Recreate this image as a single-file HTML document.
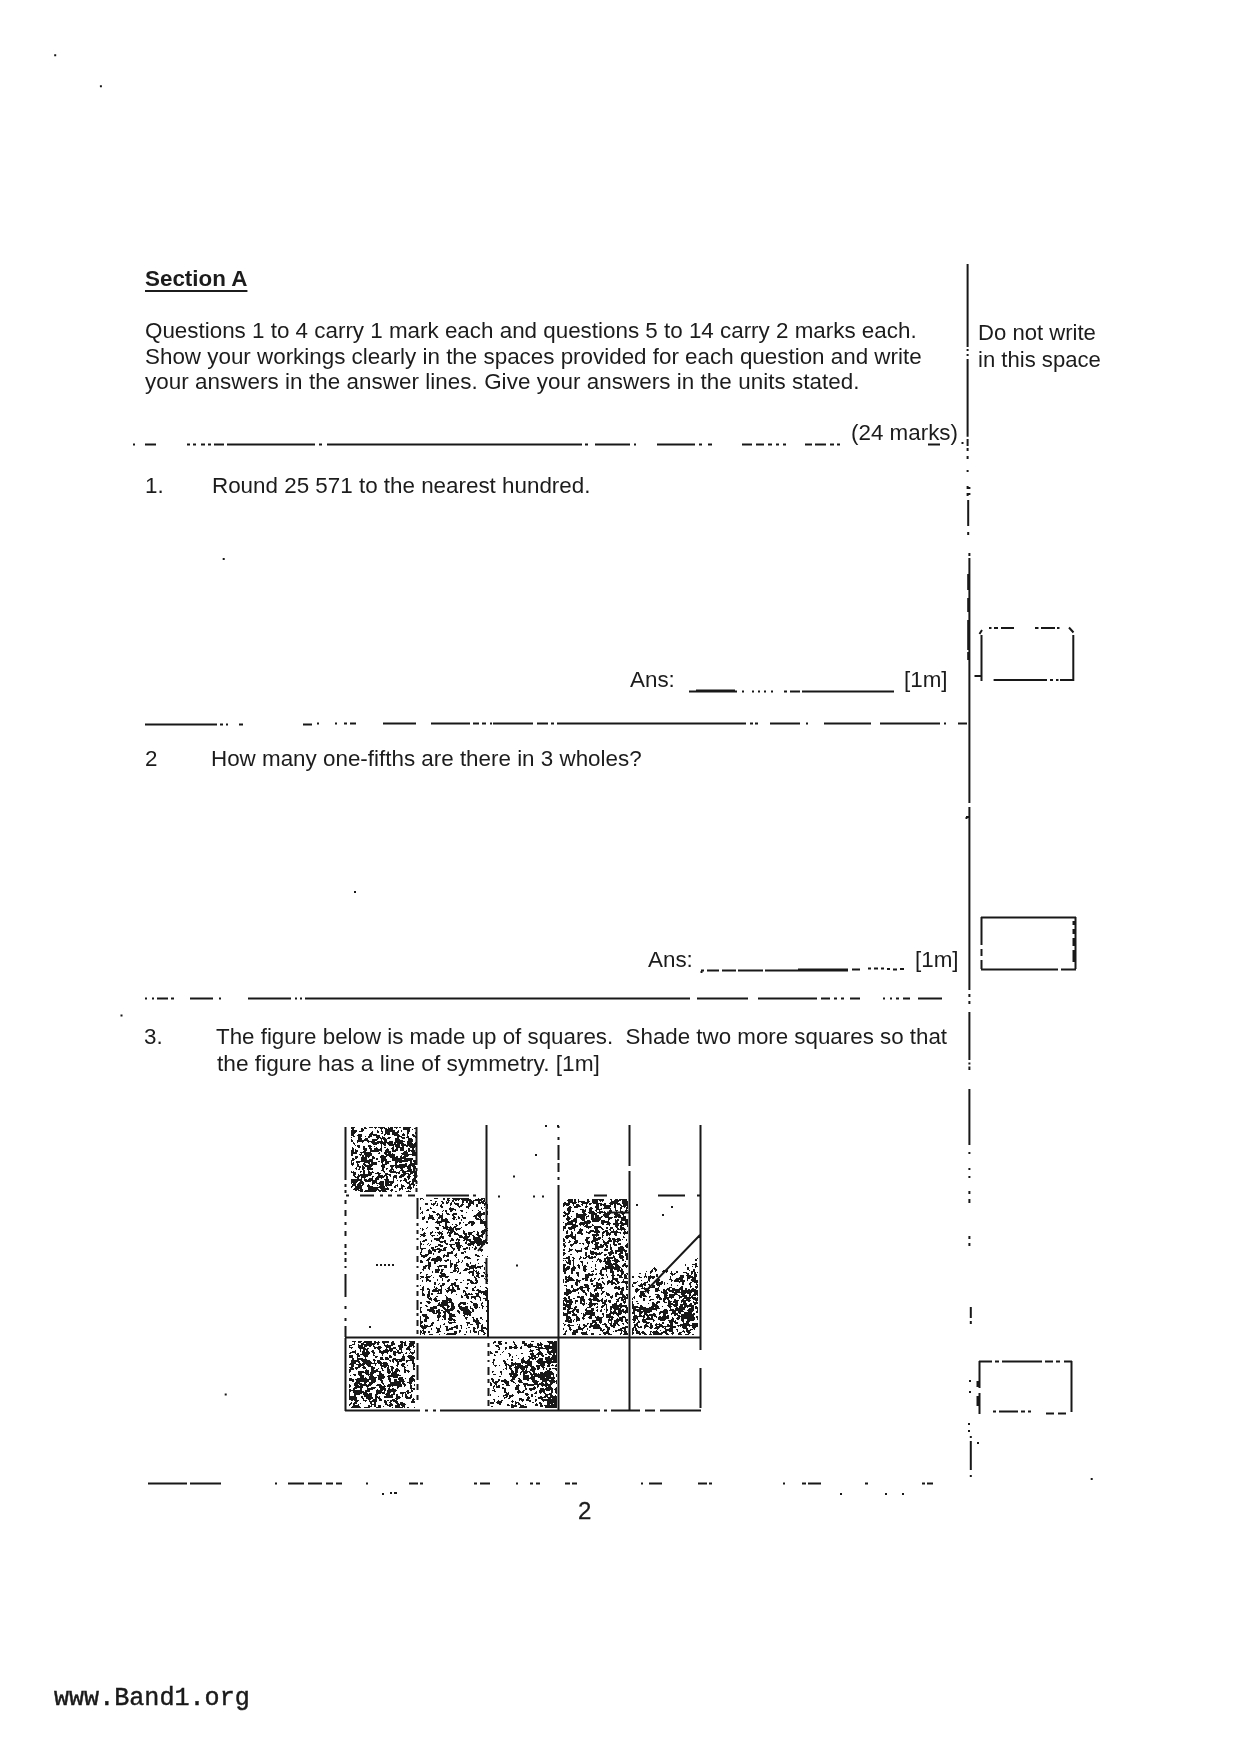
<!DOCTYPE html>
<html><head><meta charset="utf-8"><title>Section A</title>
<style>
html,body{margin:0;padding:0;background:#fff;}
body{width:1239px;height:1754px;position:relative;overflow:hidden;font-family:"Liberation Sans",sans-serif;color:#1c1c1c;}
.t{position:absolute;white-space:nowrap;line-height:30px;will-change:transform;}
svg{position:absolute;left:0;top:0;}
</style></head><body>
<div class="t" style="left:145px;top:264.24px;font-size:22.4px;font-weight:bold;"><span style="text-decoration:underline;text-underline-offset:4px;text-decoration-thickness:2px">Section A</span></div>
<div class="t" style="left:145px;top:315.54px;font-size:22.4px;">Questions 1 to 4 carry 1 mark each and questions 5 to 14 carry 2 marks each.</div>
<div class="t" style="left:145px;top:341.54px;font-size:22.4px;">Show your workings clearly in the spaces provided for each question and write</div>
<div class="t" style="left:145px;top:367.24px;font-size:22.4px;letter-spacing:0.055px;">your answers in the answer lines. Give your answers in the units stated.</div>
<div class="t" style="left:851px;top:418.24px;font-size:22.4px;">(24 marks)</div>
<div class="t" style="left:145px;top:471.04px;font-size:22.4px;">1.</div>
<div class="t" style="left:212px;top:471.04px;font-size:22.4px;">Round 25 571 to the nearest hundred.</div>
<div class="t" style="left:630px;top:665.04px;font-size:22.4px;">Ans:</div>
<div class="t" style="left:903.5px;top:665.04px;font-size:22.4px;">[1m]</div>
<div class="t" style="left:145px;top:743.74px;font-size:22.4px;">2</div>
<div class="t" style="left:211px;top:743.74px;font-size:22.4px;">How many one-fifths are there in 3 wholes?</div>
<div class="t" style="left:648px;top:945.24px;font-size:22.4px;">Ans:</div>
<div class="t" style="left:914.6px;top:945.24px;font-size:22.4px;">[1m]</div>
<div class="t" style="left:144px;top:1022.24px;font-size:22.4px;">3.</div>
<div class="t" style="left:216px;top:1022.26px;font-size:22.33px;">The figure below is made up of squares.&nbsp; Shade two more squares so that</div>
<div class="t" style="left:217px;top:1048.13px;font-size:22.7px;">the figure has a line of symmetry. [1m]</div>
<div class="t" style="left:977.7px;top:317.84px;font-size:22.1px;">Do not write</div>
<div class="t" style="left:977.7px;top:344.74px;font-size:22.1px;">in this space</div>
<div class="t" style="left:577.6px;top:1496.38px;font-size:24px;-webkit-text-stroke:0.3px #1c1c1c;">2</div>
<div class="t" style="left:54px;top:1683.91px;font-size:25.1px;font-family:'Liberation Mono',monospace;color:#1a1a1a;-webkit-text-stroke:0.45px #1a1a1a">www.Band1.org</div>
<svg width="1239" height="1754" viewBox="0 0 1239 1754">
<path d="M133 444.5H135M145 444.5H156M187 444.5H190M193 444.5H196M201 444.5H205M208 444.5H211M214 444.5H224M227 444.5H315M319 444.5H322M327 444.5H582M585 444.5H588M595 444.5H630M634 444.5H636M657 444.5H695M699 444.5H702M708 444.5H712M742 444.5H752M756 444.5H764M768 444.5H772M776 444.5H779M783 444.5H786M805 444.5H812M815 444.5H826M830 444.5H834M837 444.5H840M928 444.5H940M145 724.5H217M220 724.5H223M226 724.5H228M239 724.5H243M303 724.5H312M317 723.5H319M335 723.5H337M344 723.5H347M350 723.5H356M383 723.5H416M431 723.5H470M473 723.5H479M482 723.5H486M490 723.5H492M493 723.5H533M537 723.5H548M551 723.5H554M557 723.5H746M750 723.5H753M755 723.5H758M770 723.5H800M806 723.5H808M824 723.5H871M880 723.5H940M944 723.5H946M958 723.5H967M145 998.5H147M152 998.5H154M157 998.5H168M171 998.5H174M190 998.5H213M219 998.5H221M248 998.5H291M295 998.5H297M300 998.5H302M305 998.5H690M697 998.5H748M758 998.5H817M821 998.5H830M834 998.5H837M841 998.5H844M850 998.5H860M883 998.5H885M890 998.5H892M896 998.5H899M903 998.5H910M918 998.5H942M148 1483.5H187M190 1483.5H221M275 1483.5H277M288 1483.5H304M308 1483.5H322M326 1483.5H333M336 1483.5H342M366 1483.5H368M409 1483.5H418M420 1483.5H423M474 1483.5H477M480 1483.5H490M516 1483.5H518M530 1483.5H533M536 1483.5H540M565 1483.5H570M572 1483.5H577M641 1483.5H643M649 1483.5H662M698 1483.5H707M709 1483.5H712M783 1483.5H785M802 1483.5H806M808 1483.5H821M865 1483.5H868M922 1483.5H925M927 1483.5H933M382 1494h2M390 1493h2M394 1493h3M840 1494h2M885 1494h2M902 1494h2M689 691.5H737M742 691.5H744M752 691.5H754M758 691.5H760M764 691.5H766M771 691.5H773M784 691.5H787M790 691.5H800M802 691.5H894M696 690.5H735M701 970.5H704M707 970.5H719M722 970.5H736M738 970.5H763M765 970.5H800M800 970.5H848M798 969.6H848M852 969.5H860M868 968.5h3M874 968.5h4M881 968.5h3M887 969h3M893 969.5h4M900 969h4M701.5 971v2M967.6 264V347M967.6 349V351M967.6 354V356M967.6 359V436.7M967.6 439V446M967.6 448V451M967.6 456V459M967.6 470V472M967.6 486V489M967.6 493V496M969.4 487V489M969.4 493V495M969.4 553V556M969.4 558V650M969.4 650V803M969.4 807V990M969.4 994V997M969.4 1001V1004M969.4 1012V1060M969.4 1062.5V1064.5M969.4 1066.5V1070M969.4 1089V1145M969.4 1152V1154M969.4 1168V1170M969.4 1176V1178M969.4 1191V1194M969.4 1199V1203M969.4 1236V1239M969.4 1243V1246M968.2 500V526M968.2 532V535M968.2 574V590M968.2 598V612M968.2 620V650M968.2 652V660M966 817h3M965.5 818h2M970.8 1307V1318M970.8 1321V1324M970.8 1436V1438M970.8 1441V1470M970.8 1475V1477M969 1381h2M969 1392h2M968 1424h2M968 1431h2M977 1443h2M961.5 443h2M989 628h2.5M994 628h4M1001 628H1014M1035 628h3.5M1041 628H1055M1057 628h2.5M1069 627.5l4.5 5M979.5 634l2.5 -4M981.5 635V681M1073.3 635V681M974.5 676H982M993.6 680H1047M1050 680h3M1056 680h2.5M1060 680H1074M981 917.5H1076M981.5 917V945M981.5 949V956M981.5 960V969M981 969.5H1058M1061 969.5H1076M1075.5 917V969M1073.5 921v4M1073.5 929v5M1073.5 938v8M1073.5 950v12M979 1361.5H992M995 1361.5h4M1002 1361.5H1042M1045 1361.5h8M1056 1361.5h4M1064 1361.5H1072M979.5 1361V1388M979.5 1393V1414M977.5 1381v6M977.5 1396v10M1071.5 1361V1412M993 1411.5h3M999 1411.5H1018M1021 1411.5h4M1028 1411.5h3M1046 1413.5h8M1058 1413.5h8" stroke="#181818" stroke-width="2" fill="none"/>
<path d="M54.2 55.2h2M99.9 86.3h2M222.7 559.0h2M354.0 892.0h2M224.7 1394.4h2M120.5 1015.6h2M1090.7 1479.0h2" stroke="#181818" stroke-width="2" fill="none"/>
<path d="M345.5 1127V1180M345.5 1184V1187M345.5 1190V1193M345.5 1200V1204M345.5 1210V1216M345.5 1222V1225M345.5 1231V1236M345.5 1244V1248M345.5 1252V1255M345.5 1258V1262M345.5 1266V1268M345.5 1274V1297M345.5 1306V1309M345.5 1318V1321M345.5 1326V1337M345.5 1338V1411M416.5 1127V1165M416.5 1168V1171M416.5 1175V1177M416.5 1181V1184M416.5 1188V1192M417.5 1198V1219M417.5 1223V1226M417.5 1230V1234M417.5 1238V1240M417.5 1246V1250M417.5 1256V1262M417.5 1266V1268M417.5 1274V1280M417.5 1285V1287M417.5 1291V1296M417.5 1300V1310M417.5 1313V1316M417.5 1320V1326M417.5 1330V1334M417.5 1343V1360M417.5 1365V1380M417.5 1384V1390M417.5 1395V1400M486.5 1125V1241M486.5 1258V1284M486 1241l-8 10M488 1300V1337M488.5 1343V1347M488.5 1351V1356M488.5 1360V1362M488.5 1367V1375M488.5 1379V1383M488.5 1388V1396M488.5 1400V1406M558.5 1126V1128M558.5 1137V1140M558.5 1145V1160M558.5 1163V1172M558.5 1177V1180M558.5 1185V1411M629.5 1125V1166M629.5 1171V1411M700.5 1125V1350M700.5 1368V1408M346 1195.5H349M360 1195.5H374M380 1195.5H383M388 1195.5H392M397 1195.5H402M408 1195.5H415M426 1195.5H469M473 1195.5H476M594 1195.5H607M658 1195.5H685M697 1195.5H701M345 1337.5H701M345 1410.5H420M425 1410.5H428M433 1410.5H436M440 1410.5H600M604 1410.5H607M611 1410.5H640M645 1410.5H655M660 1410.5H701M607 1212.5H629M700 1235L645 1292M513 1176.5h2M535 1155h2M498 1196.5h2M533 1196.5h2M542 1196.5h2M516 1265.5h2M369 1327h2M545 1126h2M557 1126h2M636 1205h2M671 1207h2M662 1215h2M376 1265h2M380 1265h2M384 1265h2M388 1265h2M392 1265h2" stroke="#181818" stroke-width="2" fill="none"/>
<path d="M351 1127h4M364 1127h2M369 1127h4M374 1127h3M378 1127h7M388 1127h1M390 1127h3M394 1127h4M399 1127h2M403 1127h8M416 1127h1M351 1128h3M361 1128h2M364 1128h3M375 1128h1M380 1128h3M384 1128h3M388 1128h5M396 1128h1M403 1128h7M414 1128h3M352 1129h2M361 1129h3M381 1129h1M385 1129h8M403 1129h7M412 1129h1M351 1130h6M361 1130h3M377 1130h1M381 1130h1M385 1130h10M398 1130h1M401 1130h1M407 1130h3M351 1131h6M359 1131h4M372 1131h1M377 1131h2M381 1131h2M385 1131h10M397 1131h2M401 1131h1M407 1131h3M351 1132h5M371 1132h2M377 1132h2M382 1132h1M385 1132h5M392 1132h7M407 1132h2M415 1132h2M351 1133h4M370 1133h3M381 1133h2M385 1133h5M392 1133h6M403 1133h1M407 1133h2M415 1133h2M351 1134h3M358 1134h4M369 1134h8M384 1134h2M387 1134h3M392 1134h7M402 1134h3M407 1134h1M412 1134h2M416 1134h1M351 1135h3M357 1135h5M369 1135h3M373 1135h7M384 1135h1M394 1135h6M402 1135h3M407 1135h1M412 1135h3M416 1135h1M353 1136h2M358 1136h4M365 1136h1M368 1136h4M376 1136h4M382 1136h1M397 1136h5M407 1136h2M413 1136h4M351 1137h1M358 1137h3M368 1137h2M376 1137h5M382 1137h3M388 1137h3M397 1137h2M401 1137h4M406 1137h3M415 1137h2M358 1138h4M365 1138h3M377 1138h2M380 1138h6M387 1138h3M395 1138h4M402 1138h3M408 1138h4M351 1139h1M358 1139h4M364 1139h4M372 1139h6M381 1139h1M383 1139h4M395 1139h5M408 1139h5M351 1140h2M357 1140h12M372 1140h5M381 1140h1M384 1140h3M395 1140h8M408 1140h5M351 1141h2M357 1141h7M367 1141h8M377 1141h6M384 1141h3M389 1141h4M395 1141h10M407 1141h6M353 1142h1M357 1142h1M362 1142h1M368 1142h1M371 1142h22M394 1142h9M407 1142h5M415 1142h1M353 1143h2M372 1143h7M380 1143h6M387 1143h6M394 1143h2M397 1143h7M407 1143h6M414 1143h3M354 1144h1M373 1144h4M381 1144h1M383 1144h3M388 1144h12M401 1144h5M407 1144h10M355 1145h1M357 1145h3M368 1145h3M381 1145h1M384 1145h2M389 1145h5M395 1145h5M401 1145h16M357 1146h3M363 1146h2M368 1146h4M374 1146h1M381 1146h1M393 1146h1M395 1146h5M402 1146h2M406 1146h2M409 1146h7M352 1147h1M358 1147h2M363 1147h2M369 1147h2M376 1147h1M381 1147h1M384 1147h2M392 1147h2M396 1147h8M410 1147h5M352 1148h2M363 1148h4M369 1148h3M374 1148h4M380 1148h2M387 1148h1M391 1148h3M396 1148h2M400 1148h4M408 1148h2M412 1148h2M352 1149h2M355 1149h1M363 1149h4M370 1149h2M374 1149h8M386 1149h3M392 1149h2M395 1149h3M400 1149h4M408 1149h2M412 1149h2M351 1150h3M355 1150h3M364 1150h3M370 1150h12M385 1150h4M392 1150h6M400 1150h4M406 1150h1M408 1150h7M351 1151h3M355 1151h3M363 1151h3M370 1151h9M381 1151h1M385 1151h6M392 1151h4M404 1151h3M408 1151h2M411 1151h4M351 1152h6M360 1152h11M379 1152h1M384 1152h7M403 1152h5M412 1152h4M351 1153h6M361 1153h1M364 1153h8M378 1153h2M384 1153h3M388 1153h3M392 1153h1M401 1153h7M412 1153h5M351 1154h2M359 1154h3M364 1154h8M385 1154h10M402 1154h15M351 1155h2M360 1155h1M362 1155h2M365 1155h7M381 1155h3M386 1155h9M401 1155h1M404 1155h5M412 1155h5M355 1156h3M362 1156h2M365 1156h5M372 1156h2M380 1156h7M389 1156h6M396 1156h2M400 1156h2M403 1156h5M416 1156h1M355 1157h3M361 1157h6M368 1157h1M372 1157h3M380 1157h6M390 1157h8M400 1157h6M416 1157h1M352 1158h2M355 1158h2M361 1158h6M372 1158h3M376 1158h2M381 1158h5M392 1158h21M352 1159h3M361 1159h6M369 1159h4M376 1159h2M381 1159h6M392 1159h10M404 1159h9M351 1160h3M361 1160h12M381 1160h6M392 1160h20M413 1160h3M351 1161h1M356 1161h17M378 1161h2M381 1161h3M385 1161h6M395 1161h13M410 1161h2M413 1161h4M351 1162h1M353 1162h1M356 1162h4M364 1162h6M371 1162h6M381 1162h2M385 1162h4M395 1162h3M399 1162h3M410 1162h2M414 1162h3M351 1163h3M357 1163h1M363 1163h2M368 1163h2M371 1163h6M382 1163h1M385 1163h4M395 1163h2M405 1163h2M410 1163h7M351 1164h3M357 1164h2M363 1164h3M369 1164h8M382 1164h5M395 1164h2M399 1164h8M409 1164h8M352 1165h1M357 1165h2M362 1165h1M364 1165h9M381 1165h4M390 1165h17M408 1165h7M357 1166h4M362 1166h2M365 1166h7M381 1166h4M390 1166h4M395 1166h16M412 1166h4M356 1167h1M359 1167h2M362 1167h3M367 1167h4M382 1167h3M391 1167h2M395 1167h10M407 1167h4M413 1167h3M355 1168h2M359 1168h1M362 1168h3M367 1168h6M382 1168h2M386 1168h2M391 1168h2M396 1168h1M400 1168h3M407 1168h4M413 1168h3M356 1169h1M358 1169h2M362 1169h2M367 1169h6M382 1169h2M386 1169h1M390 1169h4M401 1169h2M408 1169h4M413 1169h2M363 1170h2M368 1170h1M381 1170h3M389 1170h3M393 1170h1M400 1170h4M407 1170h5M413 1170h2M351 1171h1M353 1171h1M360 1171h2M363 1171h2M368 1171h2M372 1171h1M383 1171h2M389 1171h7M399 1171h1M402 1171h15M351 1172h5M360 1172h1M363 1172h2M368 1172h6M377 1172h2M384 1172h1M390 1172h10M402 1172h4M410 1172h7M353 1173h3M363 1173h2M368 1173h4M375 1173h6M385 1173h3M396 1173h1M398 1173h2M403 1173h6M410 1173h3M414 1173h3M353 1174h3M358 1174h1M360 1174h12M378 1174h2M385 1174h6M401 1174h5M408 1174h3M414 1174h3M353 1175h2M358 1175h13M378 1175h5M384 1175h3M389 1175h2M394 1175h3M400 1175h5M408 1175h2M413 1175h4M354 1176h2M357 1176h3M361 1176h7M372 1176h2M377 1176h8M386 1176h2M390 1176h1M393 1176h4M399 1176h5M407 1176h4M414 1176h3M355 1177h4M361 1177h5M372 1177h1M376 1177h8M386 1177h2M393 1177h4M399 1177h3M407 1177h3M414 1177h3M357 1178h2M361 1178h1M364 1178h1M369 1178h4M375 1178h4M381 1178h1M386 1178h2M393 1178h1M396 1178h1M404 1178h2M408 1178h2M413 1178h3M351 1179h11M364 1179h3M368 1179h5M375 1179h4M384 1179h5M393 1179h1M404 1179h3M408 1179h1M412 1179h4M351 1180h11M364 1180h13M385 1180h4M393 1180h1M397 1180h1M400 1180h2M403 1180h4M412 1180h5M351 1181h7M360 1181h3M365 1181h6M372 1181h5M380 1181h4M385 1181h9M400 1181h1M405 1181h2M409 1181h2M412 1181h5M351 1182h6M359 1182h5M372 1182h5M379 1182h5M385 1182h9M406 1182h4M412 1182h2M351 1183h1M353 1183h3M358 1183h6M372 1183h3M376 1183h8M385 1183h4M390 1183h3M407 1183h3M411 1183h3M352 1184h4M357 1184h4M362 1184h2M368 1184h1M372 1184h1M379 1184h5M385 1184h7M397 1184h1M401 1184h1M409 1184h6M352 1185h4M357 1185h6M367 1185h3M377 1185h1M380 1185h4M385 1185h7M395 1185h3M401 1185h3M409 1185h2M413 1185h2M416 1185h1M351 1186h2M355 1186h7M367 1186h6M379 1186h6M386 1186h1M394 1186h2M397 1186h1M401 1186h4M408 1186h3M413 1186h1M351 1187h1M355 1187h7M368 1187h17M387 1187h1M394 1187h2M401 1187h2M407 1187h5M413 1187h1M354 1188h8M368 1188h10M380 1188h9M399 1188h4M405 1188h1M407 1188h5M353 1189h6M360 1189h3M368 1189h11M381 1189h8M391 1189h2M399 1189h2M402 1189h1M410 1189h1M355 1190h2M358 1190h5M365 1190h12M378 1190h8M390 1190h3M399 1190h1M408 1190h1M416 1190h1M360 1191h3M364 1191h12M379 1191h2M382 1191h5M391 1191h1M395 1191h2M406 1191h5M420 1198h3M434 1198h4M443 1198h2M447 1198h3M452 1198h17M478 1198h1M481 1198h4M420 1199h1M423 1199h1M443 1199h2M447 1199h2M453 1199h7M461 1199h10M475 1199h8M484 1199h1M430 1200h2M447 1200h3M452 1200h2M455 1200h2M458 1200h1M462 1200h10M473 1200h9M483 1200h2M435 1201h2M441 1201h2M446 1201h1M448 1201h1M452 1201h2M462 1201h2M466 1201h2M469 1201h5M478 1201h2M481 1201h4M435 1202h1M442 1202h2M446 1202h3M451 1202h1M454 1202h1M462 1202h2M466 1202h2M469 1202h5M478 1202h6M485 1202h1M425 1203h3M431 1203h1M433 1203h3M437 1203h1M442 1203h2M446 1203h2M450 1203h2M454 1203h5M462 1203h1M468 1203h6M478 1203h3M482 1203h5M425 1204h3M431 1204h4M437 1204h1M441 1204h1M450 1204h2M455 1204h4M461 1204h3M468 1204h3M473 1204h1M476 1204h2M484 1204h4M433 1205h1M436 1205h2M440 1205h2M450 1205h1M457 1205h2M460 1205h3M468 1205h3M476 1205h2M484 1205h1M487 1205h1M440 1206h3M458 1206h4M466 1206h4M476 1206h2M487 1206h1M420 1207h1M430 1207h1M441 1207h2M450 1207h1M459 1207h1M466 1207h3M481 1207h1M484 1207h1M486 1207h2M420 1208h1M430 1208h2M449 1208h5M468 1208h1M481 1208h1M487 1208h1M420 1209h1M427 1209h2M449 1209h7M482 1209h1M426 1210h3M443 1210h1M445 1210h2M450 1210h3M455 1210h1M460 1210h3M472 1210h1M478 1210h1M486 1210h1M422 1211h1M432 1211h3M442 1211h1M445 1211h2M450 1211h2M461 1211h2M479 1211h2M486 1211h2M421 1212h2M433 1212h3M446 1212h1M466 1212h1M478 1212h3M483 1212h2M486 1212h2M420 1213h1M422 1213h1M437 1213h2M442 1213h1M446 1213h3M453 1213h4M477 1213h8M487 1213h1M429 1214h1M436 1214h4M442 1214h1M447 1214h3M452 1214h5M476 1214h9M487 1214h1M429 1215h4M437 1215h1M439 1215h4M452 1215h2M461 1215h2M474 1215h8M424 1216h1M429 1216h4M439 1216h4M453 1216h2M458 1216h1M462 1216h1M473 1216h4M478 1216h3M422 1217h3M428 1217h6M438 1217h5M453 1217h3M458 1217h2M462 1217h4M475 1217h2M479 1217h2M422 1218h3M428 1218h6M438 1218h2M441 1218h2M445 1218h2M452 1218h3M458 1218h2M463 1218h3M475 1218h4M480 1218h1M422 1219h2M428 1219h1M432 1219h3M437 1219h1M441 1219h7M453 1219h2M456 1219h1M461 1219h1M476 1219h6M483 1219h1M437 1220h1M441 1220h7M461 1220h1M480 1220h3M426 1221h2M436 1221h13M469 1221h5M480 1221h6M426 1222h2M435 1222h7M445 1222h5M459 1222h2M463 1222h1M468 1222h7M480 1222h6M437 1223h3M445 1223h2M459 1223h2M468 1223h2M471 1223h4M480 1223h6M439 1224h1M445 1224h2M452 1224h1M455 1224h2M459 1224h1M465 1224h3M471 1224h3M484 1224h2M439 1225h2M445 1225h2M456 1225h2M465 1225h2M471 1225h2M484 1225h3M442 1226h2M445 1226h3M450 1226h1M454 1226h3M485 1226h2M427 1227h1M435 1227h4M443 1227h9M453 1227h3M461 1227h1M485 1227h2M420 1228h1M422 1228h1M426 1228h1M436 1228h3M443 1228h5M449 1228h5M455 1228h6M487 1228h1M422 1229h2M437 1229h2M446 1229h8M455 1229h5M484 1229h2M422 1230h1M448 1230h6M456 1230h1M463 1230h1M482 1230h4M487 1230h1M432 1231h1M439 1231h1M442 1231h1M448 1231h1M450 1231h5M463 1231h2M473 1231h2M477 1231h1M481 1231h5M424 1232h1M430 1232h3M435 1232h1M437 1232h5M447 1232h6M454 1232h2M463 1232h2M468 1232h5M477 1232h2M481 1232h4M423 1233h3M430 1233h2M438 1233h5M447 1233h1M449 1233h3M454 1233h4M463 1233h4M468 1233h4M477 1233h2M482 1233h3M420 1234h5M430 1234h1M439 1234h1M441 1234h2M449 1234h2M454 1234h5M464 1234h3M468 1234h4M476 1234h3M481 1234h3M421 1235h5M431 1235h4M437 1235h1M441 1235h1M448 1235h3M458 1235h4M465 1235h2M469 1235h1M472 1235h2M477 1235h6M486 1235h2M420 1236h1M423 1236h2M432 1236h1M440 1236h4M449 1236h2M459 1236h4M464 1236h6M473 1236h2M478 1236h5M439 1237h5M459 1237h10M473 1237h7M482 1237h1M434 1238h7M442 1238h2M451 1238h2M457 1238h1M463 1238h5M473 1238h8M425 1239h2M434 1239h6M451 1239h3M456 1239h4M464 1239h7M473 1239h9M485 1239h1M423 1240h4M431 1240h1M436 1240h4M444 1240h2M450 1240h4M456 1240h1M458 1240h2M463 1240h2M466 1240h5M474 1240h8M483 1240h4M420 1241h1M422 1241h3M431 1241h1M439 1241h7M450 1241h1M458 1241h1M466 1241h1M469 1241h18M420 1242h1M440 1242h3M444 1242h2M455 1242h5M465 1242h2M470 1242h18M420 1243h2M428 1243h1M445 1243h3M455 1243h5M465 1243h2M468 1243h7M476 1243h9M486 1243h2M420 1244h2M423 1244h1M427 1244h1M430 1244h1M438 1244h3M446 1244h2M449 1244h6M456 1244h4M467 1244h7M477 1244h8M420 1245h1M429 1245h1M438 1245h5M450 1245h2M456 1245h6M468 1245h3M473 1245h1M477 1245h3M481 1245h2M420 1246h1M435 1246h3M440 1246h3M450 1246h2M456 1246h5M462 1246h1M475 1246h1M420 1247h1M431 1247h3M435 1247h1M444 1247h3M451 1247h2M457 1247h4M466 1247h2M469 1247h1M472 1247h1M475 1247h2M420 1248h6M431 1248h3M437 1248h3M443 1248h3M452 1248h3M457 1248h3M463 1248h5M469 1248h1M474 1248h3M421 1249h2M429 1249h1M432 1249h10M443 1249h3M453 1249h2M458 1249h2M463 1249h3M469 1249h1M474 1249h2M479 1249h4M421 1250h1M428 1250h3M432 1250h4M439 1250h7M453 1250h1M458 1250h2M480 1250h3M421 1251h1M428 1251h4M434 1251h2M438 1251h3M451 1251h2M464 1251h2M481 1251h1M420 1252h2M428 1252h4M438 1252h2M447 1252h6M461 1252h3M465 1252h1M420 1253h1M428 1253h4M433 1253h1M447 1253h6M456 1253h1M461 1253h3M420 1254h2M425 1254h4M433 1254h1M444 1254h1M447 1254h2M455 1254h2M475 1254h2M421 1255h7M443 1255h6M454 1255h3M475 1255h4M482 1255h1M421 1256h6M437 1256h3M443 1256h2M446 1256h3M455 1256h1M465 1256h3M477 1256h3M487 1256h1M423 1257h2M429 1257h2M436 1257h5M443 1257h1M456 1257h1M464 1257h6M428 1258h2M432 1258h10M464 1258h1M467 1258h4M427 1259h3M431 1259h11M447 1259h2M458 1259h1M477 1259h2M486 1259h1M420 1260h2M426 1260h3M431 1260h11M444 1260h5M450 1260h1M458 1260h1M462 1260h1M477 1260h1M420 1261h3M428 1261h1M434 1261h4M440 1261h1M445 1261h2M450 1261h1M458 1261h2M462 1261h1M420 1262h3M428 1262h3M434 1262h2M450 1262h1M456 1262h3M461 1262h1M470 1262h1M484 1262h2M428 1263h3M434 1263h2M450 1263h3M456 1263h1M466 1263h2M470 1263h1M478 1263h1M485 1263h1M428 1264h3M450 1264h3M454 1264h3M466 1264h3M475 1264h1M425 1265h6M439 1265h8M450 1265h2M454 1265h4M466 1265h3M471 1265h5M482 1265h1M423 1266h4M428 1266h3M437 1266h5M444 1266h3M450 1266h2M454 1266h3M467 1266h9M477 1266h6M423 1267h3M428 1267h2M438 1267h1M444 1267h3M450 1267h1M454 1267h2M457 1267h1M469 1267h12M484 1267h1M423 1268h3M428 1268h2M438 1268h1M454 1268h5M465 1268h3M469 1268h5M475 1268h2M480 1268h1M484 1268h1M422 1269h2M429 1269h1M435 1269h5M441 1269h3M454 1269h2M458 1269h1M464 1269h6M473 1269h1M484 1269h1M423 1270h1M435 1270h5M441 1270h2M453 1270h4M458 1270h1M463 1270h4M473 1270h2M476 1270h1M432 1271h1M435 1271h4M441 1271h2M453 1271h3M457 1271h2M469 1271h5M475 1271h2M478 1271h1M420 1272h2M432 1272h1M435 1272h4M440 1272h2M450 1272h3M457 1272h1M460 1272h1M468 1272h6M476 1272h3M483 1272h2M420 1273h1M440 1273h5M459 1273h2M469 1273h1M472 1273h2M476 1273h4M484 1273h1M426 1274h2M441 1274h5M472 1274h2M477 1274h2M485 1274h3M426 1275h1M431 1275h1M439 1275h7M472 1275h2M476 1275h3M481 1275h3M486 1275h2M420 1276h4M426 1276h5M439 1276h10M474 1276h1M476 1276h3M481 1276h3M485 1276h3M421 1277h3M425 1277h5M433 1277h1M440 1277h2M445 1277h3M474 1277h2M478 1277h2M420 1278h1M426 1278h2M442 1278h1M475 1278h2M484 1278h1M426 1279h3M437 1279h1M442 1279h1M448 1279h2M455 1279h3M467 1279h3M475 1279h2M485 1279h3M422 1280h1M426 1280h5M437 1280h1M442 1280h1M447 1280h3M456 1280h1M463 1280h1M467 1280h5M475 1280h3M486 1280h2M422 1281h1M426 1281h1M429 1281h2M447 1281h2M470 1281h3M476 1281h2M486 1281h2M434 1282h2M454 1282h2M460 1282h2M470 1282h4M475 1282h3M486 1282h1M434 1283h2M439 1283h1M442 1283h3M451 1283h5M467 1283h2M471 1283h6M486 1283h2M434 1284h2M438 1284h1M442 1284h3M451 1284h5M467 1284h1M420 1285h1M440 1285h4M450 1285h3M454 1285h5M423 1286h1M434 1286h1M440 1286h2M449 1286h1M452 1286h1M455 1286h4M475 1286h1M480 1286h1M422 1287h2M434 1287h1M436 1287h1M441 1287h1M448 1287h2M452 1287h2M457 1287h2M465 1287h3M474 1287h2M485 1287h2M422 1288h2M427 1288h2M435 1288h3M441 1288h1M447 1288h3M452 1288h2M457 1288h3M466 1288h2M472 1288h2M486 1288h2M420 1289h4M427 1289h3M433 1289h4M438 1289h4M445 1289h1M448 1289h7M457 1289h3M472 1289h2M477 1289h2M487 1289h1M422 1290h2M429 1290h1M432 1290h10M446 1290h10M463 1290h2M472 1290h3M476 1290h5M485 1290h3M422 1291h1M428 1291h2M432 1291h7M440 1291h2M446 1291h3M451 1291h5M463 1291h3M478 1291h10M422 1292h1M428 1292h2M438 1292h1M440 1292h2M447 1292h1M451 1292h2M463 1292h1M465 1292h1M478 1292h10M422 1293h2M428 1293h2M431 1293h2M437 1293h5M451 1293h1M465 1293h2M468 1293h2M471 1293h1M475 1293h4M481 1293h1M483 1293h5M422 1294h3M427 1294h3M431 1294h2M456 1294h1M465 1294h8M476 1294h3M483 1294h5M422 1295h3M427 1295h3M445 1295h1M461 1295h1M464 1295h4M476 1295h3M485 1295h3M427 1296h3M436 1296h2M446 1296h1M461 1296h2M466 1296h3M471 1296h9M486 1296h2M427 1297h2M430 1297h1M435 1297h1M446 1297h2M461 1297h2M466 1297h3M471 1297h5M479 1297h2M486 1297h2M428 1298h4M434 1298h3M446 1298h5M467 1298h2M471 1298h1M474 1298h2M480 1298h1M483 1298h5M429 1299h3M433 1299h4M446 1299h6M475 1299h1M480 1299h1M485 1299h3M431 1300h1M434 1300h6M442 1300h10M480 1300h1M485 1300h2M426 1301h4M435 1301h3M442 1301h6M449 1301h3M470 1301h2M420 1302h2M427 1302h4M439 1302h1M441 1302h12M460 1302h6M471 1302h2M482 1302h1M420 1303h2M428 1303h2M438 1303h2M441 1303h7M451 1303h3M459 1303h7M467 1303h1M473 1303h4M481 1303h2M438 1304h10M451 1304h3M458 1304h3M463 1304h3M473 1304h5M481 1304h1M425 1305h2M437 1305h12M451 1305h3M458 1305h2M473 1305h5M481 1305h2M426 1306h2M433 1306h4M440 1306h4M447 1306h3M451 1306h4M458 1306h4M465 1306h3M470 1306h1M474 1306h4M482 1306h2M486 1306h2M420 1307h2M430 1307h7M442 1307h3M447 1307h2M451 1307h4M459 1307h9M470 1307h1M474 1307h4M479 1307h1M482 1307h1M487 1307h1M420 1308h1M430 1308h7M443 1308h3M447 1308h1M450 1308h5M459 1308h9M470 1308h3M475 1308h2M482 1308h1M420 1309h1M427 1309h7M438 1309h2M444 1309h10M460 1309h9M472 1309h2M420 1310h1M427 1310h8M436 1310h4M441 1310h2M445 1310h8M457 1310h2M461 1310h9M472 1310h2M486 1310h2M420 1311h2M429 1311h6M436 1311h4M443 1311h7M457 1311h3M463 1311h8M472 1311h2M486 1311h2M420 1312h2M432 1312h3M436 1312h5M443 1312h3M447 1312h3M458 1312h2M463 1312h9M433 1313h4M438 1313h3M444 1313h2M448 1313h4M459 1313h1M463 1313h8M422 1314h5M438 1314h2M444 1314h2M449 1314h6M464 1314h7M422 1315h5M437 1315h4M443 1315h3M449 1315h6M463 1315h2M467 1315h1M469 1315h2M487 1315h1M420 1316h1M423 1316h5M437 1316h4M442 1316h4M449 1316h7M464 1316h1M487 1316h1M420 1317h1M425 1317h4M437 1317h3M443 1317h3M449 1317h3M465 1317h3M472 1317h2M480 1317h2M487 1317h1M420 1318h1M425 1318h4M438 1318h1M444 1318h2M448 1318h5M465 1318h2M473 1318h1M476 1318h2M480 1318h2M420 1319h1M424 1319h3M438 1319h1M442 1319h1M444 1319h2M448 1319h7M466 1319h1M473 1319h2M476 1319h2M482 1319h1M420 1320h1M424 1320h3M437 1320h2M449 1320h3M453 1320h3M473 1320h6M486 1320h1M420 1321h3M424 1321h3M448 1321h1M454 1321h1M473 1321h6M486 1321h1M420 1322h3M432 1322h2M448 1322h8M466 1322h4M475 1322h5M420 1323h2M431 1323h3M444 1323h1M449 1323h3M467 1323h3M476 1323h5M420 1324h1M424 1324h1M431 1324h2M443 1324h2M467 1324h1M470 1324h3M476 1324h3M482 1324h1M420 1325h3M424 1325h4M430 1325h3M440 1325h1M456 1325h2M460 1325h2M467 1325h1M477 1325h2M481 1325h2M420 1326h11M440 1326h1M445 1326h3M454 1326h4M461 1326h1M477 1326h2M481 1326h2M421 1327h6M436 1327h1M440 1327h1M446 1327h2M451 1327h7M461 1327h1M468 1327h2M473 1327h2M477 1327h2M481 1327h5M422 1328h4M431 1328h1M436 1328h4M446 1328h2M449 1328h4M456 1328h2M461 1328h1M466 1328h1M473 1328h3M477 1328h1M481 1328h6M423 1329h1M431 1329h1M437 1329h3M446 1329h7M473 1329h2M481 1329h2M486 1329h2M420 1330h1M422 1330h2M437 1330h3M446 1330h3M459 1330h2M470 1330h1M473 1330h2M479 1330h5M420 1331h2M423 1331h3M428 1331h2M437 1331h4M454 1331h3M459 1331h2M466 1331h1M470 1331h1M473 1331h4M478 1331h1M481 1331h3M420 1332h2M423 1332h3M428 1332h2M436 1332h3M454 1332h3M459 1332h1M466 1332h1M470 1332h1M474 1332h3M478 1332h1M483 1332h2M420 1333h1M422 1333h3M444 1333h1M447 1333h10M478 1333h1M484 1333h2M420 1334h1M424 1334h1M429 1334h4M439 1334h1M446 1334h10M464 1334h2M478 1334h1M483 1334h2M487 1334h1M568 1199h5M574 1199h2M578 1199h1M587 1199h2M592 1199h12M610 1199h2M615 1199h3M619 1199h8M567 1200h6M574 1200h2M578 1200h1M587 1200h2M592 1200h6M599 1200h5M611 1200h1M614 1200h7M622 1200h5M568 1201h5M574 1201h2M578 1201h7M587 1201h3M592 1201h6M600 1201h1M602 1201h1M611 1201h8M622 1201h6M564 1202h2M568 1202h9M578 1202h1M581 1202h8M592 1202h6M610 1202h8M622 1202h6M563 1203h7M572 1203h4M582 1203h6M589 1203h3M593 1203h9M604 1203h2M609 1203h11M622 1203h6M563 1204h7M573 1204h1M576 1204h3M581 1204h2M586 1204h1M589 1204h2M596 1204h3M600 1204h6M610 1204h3M614 1204h2M617 1204h4M623 1204h5M563 1205h2M566 1205h3M573 1205h1M576 1205h4M582 1205h1M586 1205h1M596 1205h3M600 1205h2M603 1205h8M614 1205h2M620 1205h2M623 1205h5M563 1206h1M569 1206h2M574 1206h7M585 1206h3M595 1206h4M604 1206h7M614 1206h2M621 1206h5M627 1206h1M568 1207h4M574 1207h4M585 1207h2M590 1207h2M595 1207h4M604 1207h6M614 1207h2M620 1207h2M624 1207h1M626 1207h2M567 1208h4M589 1208h4M596 1208h3M601 1208h1M603 1208h8M615 1208h1M620 1208h2M626 1208h2M567 1209h4M580 1209h4M585 1209h1M589 1209h3M596 1209h6M610 1209h1M615 1209h1M620 1209h1M626 1209h1M567 1210h4M582 1210h4M589 1210h3M595 1210h2M599 1210h1M609 1210h3M615 1210h3M620 1210h1M625 1210h3M564 1211h1M568 1211h3M572 1211h2M582 1211h4M589 1211h5M596 1211h1M599 1211h4M604 1211h1M609 1211h3M616 1211h1M620 1211h3M625 1211h2M563 1212h3M568 1212h2M582 1212h3M588 1212h7M597 1212h9M607 1212h4M621 1212h3M564 1213h6M576 1213h2M583 1213h3M589 1213h8M599 1213h2M604 1213h7M614 1213h4M621 1213h4M565 1214h4M576 1214h11M591 1214h6M603 1214h7M614 1214h6M622 1214h2M563 1215h3M567 1215h1M576 1215h10M588 1215h1M591 1215h3M595 1215h4M603 1215h6M615 1215h6M623 1215h1M563 1216h2M567 1216h2M571 1216h1M576 1216h9M586 1216h3M591 1216h3M595 1216h4M601 1216h2M604 1216h5M614 1216h7M623 1216h3M567 1217h3M576 1217h9M586 1217h1M591 1217h3M595 1217h7M605 1217h8M614 1217h3M618 1217h8M566 1218h5M574 1218h3M580 1218h5M586 1218h1M591 1218h10M608 1218h4M621 1218h5M566 1219h4M573 1219h4M581 1219h4M591 1219h10M608 1219h2M615 1219h1M617 1219h2M621 1219h7M567 1220h2M571 1220h6M582 1220h3M587 1220h3M592 1220h8M601 1220h4M608 1220h1M615 1220h4M621 1220h7M568 1221h9M584 1221h7M592 1221h7M601 1221h8M615 1221h3M620 1221h2M625 1221h3M563 1222h1M567 1222h6M575 1222h2M580 1222h11M601 1222h9M615 1222h3M620 1222h3M625 1222h3M565 1223h8M575 1223h1M579 1223h11M601 1223h3M607 1223h4M613 1223h15M565 1224h11M579 1224h6M586 1224h2M592 1224h1M602 1224h2M606 1224h4M613 1224h6M621 1224h7M565 1225h2M572 1225h6M580 1225h1M583 1225h1M585 1225h3M592 1225h2M609 1225h1M615 1225h4M620 1225h4M627 1225h1M563 1226h3M571 1226h7M584 1226h8M594 1226h7M615 1226h3M620 1226h2M627 1226h1M563 1227h3M568 1227h8M586 1227h5M594 1227h8M606 1227h2M610 1227h3M616 1227h2M620 1227h4M563 1228h3M568 1228h7M580 1228h1M588 1228h1M594 1228h4M601 1228h2M606 1228h2M610 1228h3M617 1228h2M620 1228h5M563 1229h1M569 1229h3M574 1229h1M579 1229h4M595 1229h3M602 1229h2M609 1229h2M613 1229h1M617 1229h9M563 1230h1M567 1230h1M574 1230h1M579 1230h4M590 1230h4M595 1230h4M605 1230h3M610 1230h1M613 1230h1M616 1230h1M621 1230h1M624 1230h1M566 1231h2M571 1231h1M578 1231h4M586 1231h1M589 1231h11M603 1231h5M611 1231h7M624 1231h2M627 1231h1M566 1232h2M571 1232h2M577 1232h5M586 1232h5M594 1232h6M602 1232h3M606 1232h3M610 1232h11M623 1232h5M566 1233h2M571 1233h2M577 1233h6M588 1233h2M596 1233h2M602 1233h2M606 1233h5M614 1233h3M620 1233h1M623 1233h5M570 1234h3M575 1234h1M581 1234h2M592 1234h7M602 1234h1M606 1234h5M614 1234h3M624 1234h1M566 1235h7M575 1235h1M592 1235h7M602 1235h2M606 1235h2M609 1235h1M615 1235h2M565 1236h11M593 1236h2M596 1236h1M602 1236h1M623 1236h1M565 1237h4M571 1237h5M586 1237h4M593 1237h3M598 1237h3M602 1237h1M609 1237h1M623 1237h2M563 1238h1M566 1238h2M572 1238h4M586 1238h3M593 1238h8M608 1238h3M612 1238h3M617 1238h3M563 1239h2M574 1239h2M585 1239h3M593 1239h7M602 1239h1M609 1239h2M612 1239h9M622 1239h1M626 1239h1M563 1240h2M569 1240h1M575 1240h3M585 1240h3M592 1240h6M603 1240h1M608 1240h4M613 1240h3M617 1240h4M626 1240h1M563 1241h2M569 1241h2M574 1241h4M586 1241h4M591 1241h5M603 1241h2M607 1241h5M613 1241h6M565 1242h1M568 1242h2M574 1242h4M586 1242h4M591 1242h2M595 1242h4M603 1242h6M613 1242h2M617 1242h1M563 1243h2M573 1243h4M579 1243h2M582 1243h2M587 1243h3M592 1243h1M595 1243h4M604 1243h5M613 1243h2M618 1243h3M627 1243h1M563 1244h2M570 1244h4M583 1244h1M588 1244h1M594 1244h4M600 1244h2M603 1244h4M610 1244h1M613 1244h4M618 1244h3M626 1244h2M563 1245h3M570 1245h3M588 1245h1M595 1245h3M600 1245h4M605 1245h3M610 1245h1M614 1245h3M625 1245h3M564 1246h2M571 1246h1M587 1246h2M595 1246h9M606 1246h2M610 1246h1M620 1246h3M625 1246h3M564 1247h1M585 1247h3M595 1247h8M606 1247h2M610 1247h2M618 1247h6M626 1247h2M569 1248h1M581 1248h1M584 1248h4M592 1248h7M605 1248h1M610 1248h2M618 1248h6M563 1249h2M569 1249h4M575 1249h1M581 1249h1M585 1249h3M594 1249h2M597 1249h2M604 1249h4M610 1249h2M618 1249h7M563 1250h2M569 1250h3M575 1250h7M590 1250h1M604 1250h4M611 1250h2M615 1250h12M568 1251h2M576 1251h6M590 1251h4M610 1251h3M615 1251h8M624 1251h3M563 1252h2M577 1252h1M585 1252h2M590 1252h7M599 1252h1M601 1252h2M608 1252h6M615 1252h2M620 1252h3M625 1252h1M563 1253h3M585 1253h2M590 1253h12M608 1253h6M615 1253h2M619 1253h4M625 1253h3M563 1254h2M570 1254h2M585 1254h2M591 1254h3M595 1254h6M604 1254h3M609 1254h3M618 1254h3M625 1254h3M563 1255h1M585 1255h2M588 1255h2M596 1255h1M604 1255h2M609 1255h2M613 1255h1M619 1255h4M625 1255h3M568 1256h2M580 1256h1M586 1256h4M591 1256h2M594 1256h2M607 1256h1M613 1256h2M619 1256h5M626 1256h2M566 1257h4M572 1257h2M580 1257h2M583 1257h1M585 1257h2M588 1257h8M606 1257h9M619 1257h5M626 1257h2M563 1258h7M573 1258h2M579 1258h2M583 1258h3M589 1258h4M598 1258h1M604 1258h9M614 1258h2M620 1258h3M626 1258h2M568 1259h2M573 1259h1M579 1259h1M597 1259h4M604 1259h2M607 1259h3M614 1259h4M622 1259h2M626 1259h2M563 1260h1M565 1260h1M568 1260h3M572 1260h2M597 1260h1M599 1260h3M604 1260h2M607 1260h4M612 1260h7M622 1260h2M566 1261h1M568 1261h3M573 1261h1M580 1261h3M592 1261h1M596 1261h1M599 1261h3M603 1261h8M614 1261h6M625 1261h1M566 1262h5M573 1262h1M581 1262h2M587 1262h1M600 1262h1M605 1262h6M615 1262h3M567 1263h4M573 1263h1M582 1263h1M587 1263h1M605 1263h7M613 1263h4M624 1263h2M563 1264h3M569 1264h2M573 1264h1M578 1264h1M582 1264h1M595 1264h1M606 1264h12M623 1264h3M563 1265h3M573 1265h1M577 1265h3M582 1265h1M584 1265h2M595 1265h1M605 1265h1M608 1265h5M615 1265h4M622 1265h6M563 1266h2M567 1266h3M573 1266h2M578 1266h2M583 1266h4M595 1266h1M605 1266h9M615 1266h5M622 1266h2M625 1266h3M563 1267h2M566 1267h4M572 1267h4M578 1267h2M583 1267h3M591 1267h1M602 1267h2M605 1267h16M626 1267h1M563 1268h7M571 1268h5M579 1268h1M583 1268h3M595 1268h1M602 1268h18M621 1268h1M563 1269h6M571 1269h4M583 1269h4M595 1269h2M601 1269h6M610 1269h3M614 1269h6M621 1269h2M563 1270h4M571 1270h4M583 1270h3M593 1270h1M600 1270h2M606 1270h1M610 1270h3M617 1270h6M563 1271h3M571 1271h2M584 1271h2M591 1271h3M600 1271h2M606 1271h1M610 1271h4M617 1271h2M620 1271h4M564 1272h2M571 1272h2M576 1272h3M600 1272h2M610 1272h4M621 1272h3M564 1273h2M571 1273h2M576 1273h3M588 1273h2M592 1273h1M596 1273h1M599 1273h3M612 1273h2M621 1273h3M626 1273h2M577 1274h2M585 1274h9M595 1274h2M600 1274h4M606 1274h1M612 1274h2M617 1274h2M621 1274h2M624 1274h2M627 1274h1M569 1275h1M577 1275h2M585 1275h8M601 1275h3M606 1275h1M611 1275h4M617 1275h5M624 1275h3M565 1276h2M568 1276h2M578 1276h1M585 1276h4M607 1276h1M612 1276h2M619 1276h3M624 1276h3M565 1277h7M585 1277h4M602 1277h1M607 1277h1M612 1277h2M619 1277h4M624 1277h3M565 1278h2M568 1278h5M582 1278h6M591 1278h1M594 1278h2M599 1278h1M601 1278h3M612 1278h6M624 1278h4M563 1279h1M565 1279h9M576 1279h2M582 1279h2M585 1279h3M590 1279h2M594 1279h1M598 1279h2M612 1279h6M623 1279h1M563 1280h1M566 1280h9M576 1280h5M585 1280h3M590 1280h4M598 1280h1M608 1280h2M611 1280h2M615 1280h3M623 1280h1M563 1281h1M565 1281h4M576 1281h4M590 1281h3M602 1281h1M607 1281h6M616 1281h3M622 1281h6M563 1282h1M565 1282h2M575 1282h3M579 1282h1M596 1282h2M602 1282h2M607 1282h8M617 1282h3M621 1282h7M575 1283h3M591 1283h2M596 1283h5M603 1283h2M607 1283h2M611 1283h5M617 1283h2M625 1283h3M575 1284h3M584 1284h4M591 1284h2M596 1284h6M604 1284h1M607 1284h1M611 1284h2M615 1284h2M626 1284h1M564 1285h3M571 1285h2M576 1285h2M584 1285h5M593 1285h9M626 1285h1M566 1286h1M571 1286h2M580 1286h3M585 1286h4M593 1286h2M596 1286h3M600 1286h2M615 1286h2M618 1286h2M626 1286h2M571 1287h2M579 1287h10M596 1287h8M614 1287h6M622 1287h2M626 1287h2M566 1288h1M573 1288h1M577 1288h6M587 1288h3M595 1288h8M614 1288h10M626 1288h1M566 1289h4M573 1289h6M580 1289h3M587 1289h2M594 1289h3M601 1289h1M618 1289h2M621 1289h3M626 1289h2M566 1290h5M572 1290h6M581 1290h4M587 1290h2M594 1290h3M601 1290h1M621 1290h3M566 1291h10M582 1291h3M588 1291h1M594 1291h1M602 1291h3M620 1291h3M564 1292h8M578 1292h1M583 1292h3M590 1292h1M597 1292h1M602 1292h2M606 1292h1M616 1292h2M620 1292h3M564 1293h7M578 1293h1M585 1293h2M590 1293h2M595 1293h4M601 1293h2M606 1293h3M615 1293h4M620 1293h3M564 1294h5M585 1294h2M590 1294h4M595 1294h4M601 1294h1M606 1294h4M615 1294h9M626 1294h2M566 1295h2M586 1295h1M590 1295h9M607 1295h3M612 1295h1M615 1295h2M622 1295h3M626 1295h2M568 1296h2M577 1296h3M581 1296h3M590 1296h9M605 1296h1M610 1296h3M615 1296h2M622 1296h4M627 1296h1M564 1297h2M568 1297h2M577 1297h7M593 1297h4M610 1297h3M619 1297h9M563 1298h4M568 1298h2M573 1298h2M580 1298h4M589 1298h2M593 1298h5M602 1298h1M611 1298h1M618 1298h2M621 1298h2M624 1298h4M564 1299h3M569 1299h3M580 1299h5M588 1299h11M601 1299h2M606 1299h1M616 1299h3M621 1299h5M563 1300h9M575 1300h3M580 1300h5M589 1300h3M593 1300h10M604 1300h3M608 1300h3M617 1300h2M621 1300h3M625 1300h1M563 1301h1M565 1301h8M575 1301h3M580 1301h2M583 1301h2M590 1301h2M597 1301h3M601 1301h2M604 1301h3M608 1301h3M616 1301h3M623 1301h3M563 1302h1M566 1302h7M575 1302h1M580 1302h2M584 1302h1M589 1302h3M602 1302h4M609 1302h2M616 1302h1M623 1302h3M563 1303h2M566 1303h1M569 1303h3M575 1303h1M580 1303h5M586 1303h1M589 1303h9M602 1303h4M614 1303h3M620 1303h2M624 1303h1M563 1304h9M582 1304h3M588 1304h8M597 1304h1M604 1304h3M612 1304h5M619 1304h3M563 1305h8M583 1305h1M589 1305h4M594 1305h1M602 1305h3M606 1305h1M612 1305h15M565 1306h6M575 1306h2M589 1306h3M597 1306h1M601 1306h3M606 1306h1M610 1306h17M563 1307h3M567 1307h4M574 1307h3M587 1307h4M596 1307h2M601 1307h2M606 1307h1M610 1307h9M620 1307h2M625 1307h3M563 1308h3M568 1308h5M574 1308h2M586 1308h1M591 1308h3M606 1308h1M610 1308h2M613 1308h8M626 1308h2M563 1309h3M567 1309h3M573 1309h6M585 1309h2M591 1309h3M597 1309h1M601 1309h1M604 1309h1M606 1309h2M610 1309h2M614 1309h7M622 1309h2M626 1309h2M567 1310h2M572 1310h3M576 1310h3M585 1310h9M596 1310h2M600 1310h2M606 1310h2M610 1310h1M614 1310h2M618 1310h6M625 1310h3M567 1311h7M576 1311h3M586 1311h7M597 1311h1M600 1311h2M606 1311h1M610 1311h2M613 1311h3M618 1311h10M563 1312h1M567 1312h4M572 1312h2M577 1312h2M585 1312h10M606 1312h1M610 1312h7M618 1312h4M623 1312h5M563 1313h8M573 1313h2M581 1313h1M583 1313h1M585 1313h10M602 1313h2M609 1313h13M625 1313h1M563 1314h5M572 1314h5M583 1314h12M602 1314h2M606 1314h5M613 1314h1M616 1314h5M563 1315h5M572 1315h5M583 1315h3M590 1315h5M603 1315h1M606 1315h5M617 1315h2M566 1316h4M576 1316h2M583 1316h2M589 1316h3M595 1316h1M597 1316h2M603 1316h1M606 1316h7M618 1316h1M622 1316h3M566 1317h5M576 1317h3M582 1317h2M588 1317h4M595 1317h8M606 1317h8M619 1317h7M566 1318h5M576 1318h4M582 1318h3M589 1318h3M596 1318h6M609 1318h1M611 1318h2M617 1318h1M619 1318h4M625 1318h1M566 1319h3M570 1319h2M574 1319h1M576 1319h4M583 1319h1M596 1319h6M608 1319h5M616 1319h7M625 1319h3M565 1320h7M573 1320h1M576 1320h4M592 1320h10M608 1320h4M614 1320h9M625 1320h3M565 1321h7M573 1321h1M576 1321h1M592 1321h4M599 1321h3M608 1321h1M611 1321h1M614 1321h5M621 1321h2M625 1321h2M568 1322h4M592 1322h5M599 1322h3M608 1322h1M611 1322h1M614 1322h4M626 1322h2M563 1323h1M587 1323h2M590 1323h3M595 1323h2M600 1323h1M604 1323h2M609 1323h3M613 1323h5M622 1323h2M627 1323h1M564 1324h2M568 1324h2M577 1324h1M579 1324h1M583 1324h2M587 1324h1M590 1324h2M594 1324h5M602 1324h5M610 1324h2M613 1324h3M617 1324h2M623 1324h1M564 1325h1M567 1325h7M579 1325h1M583 1325h4M590 1325h10M605 1325h2M610 1325h6M618 1325h2M568 1326h2M578 1326h2M584 1326h3M589 1326h11M605 1326h3M611 1326h4M625 1326h3M569 1327h2M578 1327h3M583 1327h2M589 1327h2M593 1327h8M606 1327h4M613 1327h2M622 1327h6M563 1328h1M569 1328h2M578 1328h6M587 1328h1M593 1328h9M607 1328h3M620 1328h6M563 1329h1M569 1329h3M576 1329h7M587 1329h1M600 1329h2M603 1329h2M607 1329h3M618 1329h4M624 1329h2M566 1330h1M570 1330h1M573 1330h5M582 1330h1M589 1330h1M600 1330h4M607 1330h2M615 1330h8M624 1330h2M565 1331h2M573 1331h5M586 1331h1M602 1331h1M606 1331h3M613 1331h1M615 1331h2M621 1331h1M623 1331h4M565 1332h1M572 1332h6M581 1332h6M603 1332h6M621 1332h1M624 1332h3M564 1333h2M572 1333h4M581 1333h6M591 1333h3M603 1333h7M620 1333h2M624 1333h4M563 1334h3M572 1334h4M582 1334h6M591 1334h3M599 1334h2M604 1334h2M608 1334h4M620 1334h1M623 1334h5M697 1258h1M695 1259h2M695 1260h2M695 1263h2M685 1264h1M692 1264h5M685 1265h1M695 1265h2M692 1266h1M695 1266h3M654 1267h1M687 1267h2M695 1267h1M653 1268h3M687 1268h2M652 1269h1M654 1269h3M687 1269h2M693 1269h2M651 1270h2M655 1270h2M663 1270h5M689 1270h1M693 1270h2M646 1271h1M650 1271h3M655 1271h1M662 1271h6M671 1271h1M676 1271h2M691 1271h4M650 1272h2M663 1272h1M666 1272h1M671 1272h1M676 1272h2M683 1272h4M691 1272h2M694 1272h2M697 1272h1M639 1273h2M645 1273h1M650 1273h1M670 1273h3M674 1273h2M686 1273h3M691 1273h2M694 1273h2M645 1274h1M656 1274h2M671 1274h4M687 1274h2M691 1274h1M694 1274h3M645 1275h1M650 1275h1M656 1275h2M672 1275h1M680 1275h4M686 1275h5M694 1275h3M632 1276h2M638 1276h2M644 1276h3M648 1276h7M656 1276h2M670 1276h1M680 1276h4M687 1276h6M694 1276h3M632 1277h2M639 1277h3M644 1277h1M646 1277h1M648 1277h7M670 1277h1M679 1277h5M687 1277h9M648 1278h3M652 1278h2M657 1278h1M670 1278h1M676 1278h7M687 1278h3M692 1278h4M648 1279h2M656 1279h4M669 1279h3M675 1279h8M687 1279h1M691 1279h5M641 1280h1M648 1280h2M656 1280h4M671 1280h2M674 1280h5M680 1280h5M687 1280h1M691 1280h7M637 1281h1M647 1281h1M649 1281h1M656 1281h3M661 1281h2M671 1281h1M674 1281h11M692 1281h6M633 1282h4M644 1282h4M656 1282h7M664 1282h1M679 1282h1M682 1282h2M690 1282h2M694 1282h4M633 1283h3M641 1283h1M643 1283h3M656 1283h7M664 1283h1M667 1283h1M682 1283h2M689 1283h2M696 1283h1M632 1284h1M640 1284h6M648 1284h2M656 1284h6M664 1284h1M671 1284h1M682 1284h2M689 1284h2M696 1284h2M632 1285h1M638 1285h5M644 1285h2M649 1285h1M652 1285h3M657 1285h3M671 1285h1M677 1285h1M690 1285h1M697 1285h1M632 1286h2M639 1286h4M649 1286h2M652 1286h3M659 1286h1M681 1286h2M690 1286h2M695 1286h3M642 1287h1M644 1287h1M649 1287h6M658 1287h1M669 1287h3M680 1287h3M690 1287h1M695 1287h3M636 1288h2M641 1288h7M649 1288h1M655 1288h4M667 1288h3M672 1288h3M679 1288h4M685 1288h2M692 1288h2M696 1288h1M635 1289h5M644 1289h5M655 1289h4M663 1289h2M666 1289h4M672 1289h11M685 1289h2M688 1289h2M691 1289h5M635 1290h4M645 1290h5M655 1290h5M663 1290h4M668 1290h12M681 1290h17M635 1291h3M640 1291h5M647 1291h2M655 1291h3M661 1291h1M663 1291h4M669 1291h5M675 1291h5M681 1291h17M636 1292h1M640 1292h4M647 1292h2M661 1292h7M672 1292h20M694 1292h4M640 1293h5M648 1293h1M663 1293h5M674 1293h3M681 1293h5M687 1293h4M694 1293h4M640 1294h5M655 1294h4M664 1294h3M669 1294h9M681 1294h4M689 1294h2M693 1294h5M639 1295h7M657 1295h3M664 1295h4M669 1295h6M678 1295h2M682 1295h5M689 1295h2M692 1295h4M697 1295h1M634 1296h1M639 1296h3M643 1296h4M649 1296h2M656 1296h4M664 1296h3M669 1296h5M679 1296h8M689 1296h1M691 1296h2M633 1297h2M640 1297h2M649 1297h1M656 1297h5M664 1297h10M679 1297h3M684 1297h12M697 1297h1M632 1298h1M634 1298h1M643 1298h2M657 1298h1M659 1298h3M663 1298h6M671 1298h1M679 1298h1M683 1298h8M692 1298h6M632 1299h1M643 1299h2M650 1299h4M659 1299h3M663 1299h3M667 1299h2M674 1299h2M682 1299h2M686 1299h4M693 1299h5M643 1300h2M649 1300h2M663 1300h2M668 1300h2M674 1300h5M681 1300h10M695 1300h3M632 1301h1M636 1301h2M657 1301h3M663 1301h2M668 1301h4M673 1301h5M681 1301h5M688 1301h2M693 1301h1M696 1301h1M632 1302h1M652 1302h2M656 1302h4M664 1302h3M668 1302h3M673 1302h5M681 1302h1M683 1302h3M693 1302h5M632 1303h1M637 1303h2M648 1303h1M652 1303h3M656 1303h2M668 1303h5M675 1303h3M683 1303h4M690 1303h2M694 1303h4M632 1304h2M652 1304h5M668 1304h10M680 1304h7M689 1304h3M694 1304h2M632 1305h2M640 1305h2M652 1305h6M667 1305h4M673 1305h5M680 1305h3M684 1305h10M632 1306h6M640 1306h3M651 1306h8M662 1306h1M668 1306h4M674 1306h3M679 1306h4M684 1306h10M695 1306h2M632 1307h14M649 1307h5M655 1307h4M669 1307h2M676 1307h2M679 1307h7M687 1307h1M691 1307h3M695 1307h3M632 1308h4M639 1308h21M670 1308h1M675 1308h10M689 1308h5M695 1308h3M633 1309h24M664 1309h3M670 1309h4M675 1309h10M688 1309h6M697 1309h1M633 1310h8M643 1310h9M656 1310h1M663 1310h5M669 1310h14M687 1310h7M697 1310h1M633 1311h2M637 1311h15M660 1311h8M672 1311h4M678 1311h6M688 1311h5M696 1311h2M632 1312h3M639 1312h4M644 1312h6M659 1312h9M672 1312h4M678 1312h3M684 1312h8M696 1312h2M632 1313h3M639 1313h3M644 1313h3M653 1313h2M659 1313h2M663 1313h5M671 1313h7M679 1313h2M684 1313h8M693 1313h2M634 1314h1M639 1314h2M644 1314h4M649 1314h7M659 1314h1M663 1314h3M671 1314h1M674 1314h4M681 1314h14M634 1315h3M639 1315h3M643 1315h2M646 1315h10M663 1315h3M667 1315h2M674 1315h2M677 1315h3M681 1315h13M633 1316h12M647 1316h2M651 1316h2M654 1316h3M659 1316h2M662 1316h7M678 1316h16M696 1316h2M633 1317h5M643 1317h2M647 1317h3M651 1317h2M656 1317h1M658 1317h11M672 1317h1M677 1317h3M681 1317h14M696 1317h2M633 1318h5M643 1318h1M646 1318h7M658 1318h11M672 1318h2M676 1318h4M681 1318h14M697 1318h1M632 1319h4M637 1319h1M642 1319h12M658 1319h8M671 1319h3M677 1319h2M681 1319h3M687 1319h8M697 1319h1M633 1320h3M638 1320h1M642 1320h4M653 1320h2M660 1320h5M668 1320h6M675 1320h1M681 1320h3M687 1320h7M634 1321h1M638 1321h2M642 1321h5M653 1321h1M669 1321h7M682 1321h2M686 1321h4M633 1322h2M637 1322h3M643 1322h7M662 1322h2M669 1322h4M674 1322h4M683 1322h1M686 1322h3M636 1323h2M646 1323h3M650 1323h2M656 1323h1M659 1323h1M662 1323h2M670 1323h3M675 1323h3M683 1323h6M692 1323h6M634 1324h4M645 1324h2M650 1324h2M655 1324h7M667 1324h2M670 1324h3M680 1324h10M692 1324h6M634 1325h4M644 1325h4M650 1325h3M655 1325h2M659 1325h4M667 1325h6M677 1325h21M634 1326h2M637 1326h2M640 1326h2M644 1326h5M650 1326h3M656 1326h20M678 1326h1M680 1326h1M682 1326h5M689 1326h1M692 1326h6M633 1327h3M638 1327h4M644 1327h2M649 1327h4M655 1327h5M662 1327h2M665 1327h1M670 1327h6M682 1327h5M692 1327h4M632 1328h2M635 1328h2M644 1328h1M650 1328h2M654 1328h5M664 1328h2M669 1328h4M683 1328h5M693 1328h2M632 1329h2M635 1329h2M657 1329h1M665 1329h8M676 1329h2M686 1329h2M690 1329h3M694 1329h1M632 1330h2M635 1330h3M656 1330h1M660 1330h1M665 1330h8M677 1330h1M683 1330h1M686 1330h5M632 1331h1M636 1331h4M642 1331h2M650 1331h2M653 1331h5M663 1331h4M669 1331h4M677 1331h1M682 1331h3M686 1331h4M632 1332h2M636 1332h4M641 1332h4M650 1332h1M652 1332h7M661 1332h6M672 1332h2M679 1332h3M684 1332h1M687 1332h4M632 1333h2M636 1333h5M642 1333h4M650 1333h1M653 1333h10M665 1333h3M671 1333h3M678 1333h3M688 1333h2M632 1334h1M639 1334h2M644 1334h3M649 1334h3M653 1334h9M666 1334h3M672 1334h1M678 1334h4M685 1334h4M692 1334h2M352 1341h4M358 1341h4M364 1341h8M374 1341h2M378 1341h1M382 1341h7M392 1341h2M400 1341h3M405 1341h1M409 1341h6M354 1342h1M358 1342h3M363 1342h9M374 1342h6M382 1342h7M391 1342h3M400 1342h6M410 1342h5M354 1343h1M361 1343h3M366 1343h10M377 1343h2M383 1343h2M391 1343h4M401 1343h2M404 1343h2M409 1343h6M352 1344h3M358 1344h1M361 1344h14M377 1344h2M384 1344h1M387 1344h1M391 1344h4M400 1344h3M404 1344h2M409 1344h5M349 1345h3M358 1345h5M364 1345h8M373 1345h1M384 1345h9M398 1345h5M404 1345h3M409 1345h5M349 1346h1M358 1346h5M364 1346h3M369 1346h2M373 1346h2M378 1346h3M385 1346h6M398 1346h5M408 1346h4M413 1346h2M349 1347h4M358 1347h7M374 1347h8M386 1347h5M393 1347h3M399 1347h4M407 1347h3M413 1347h1M351 1348h1M359 1348h7M367 1348h2M374 1348h2M377 1348h4M386 1348h1M389 1348h7M399 1348h3M406 1348h4M360 1349h1M363 1349h5M378 1349h2M385 1349h3M389 1349h4M396 1349h1M399 1349h3M406 1349h5M355 1350h1M360 1350h1M363 1350h2M366 1350h2M372 1350h2M379 1350h2M383 1350h10M397 1350h2M401 1350h1M409 1350h1M414 1350h1M352 1351h4M360 1351h1M362 1351h3M366 1351h3M371 1351h3M379 1351h10M390 1351h2M393 1351h3M397 1351h2M401 1351h1M410 1351h1M414 1351h1M350 1352h6M362 1352h8M372 1352h3M379 1352h9M393 1352h10M406 1352h1M410 1352h5M349 1353h2M355 1353h1M357 1353h2M362 1353h8M373 1353h2M381 1353h3M387 1353h1M393 1353h3M398 1353h3M405 1353h2M409 1353h1M411 1353h3M356 1354h3M360 1354h9M373 1354h1M382 1354h1M393 1354h3M403 1354h1M412 1354h1M349 1355h4M357 1355h3M363 1355h5M373 1355h2M382 1355h1M389 1355h2M394 1355h2M403 1355h1M408 1355h4M349 1356h4M357 1356h3M364 1356h4M375 1356h3M389 1356h3M402 1356h3M407 1356h7M349 1357h4M357 1357h1M365 1357h1M375 1357h2M380 1357h3M385 1357h3M389 1357h3M402 1357h3M408 1357h7M352 1358h2M357 1358h6M365 1358h1M380 1358h3M385 1358h4M393 1358h3M401 1358h4M409 1358h6M352 1359h2M357 1359h10M373 1359h2M380 1359h4M385 1359h4M392 1359h13M410 1359h4M351 1360h8M361 1360h9M373 1360h3M377 1360h3M389 1360h2M392 1360h2M395 1360h3M399 1360h6M406 1360h8M351 1361h9M362 1361h9M374 1361h1M377 1361h4M390 1361h1M392 1361h2M396 1361h6M406 1361h2M412 1361h2M351 1362h5M358 1362h2M363 1362h9M374 1362h1M377 1362h5M383 1362h4M393 1362h1M397 1362h2M406 1362h1M412 1362h2M350 1363h6M359 1363h2M362 1363h15M378 1363h10M397 1363h2M402 1363h3M412 1363h3M349 1364h5M356 1364h9M366 1364h5M375 1364h1M380 1364h2M383 1364h5M397 1364h2M401 1364h4M413 1364h2M351 1365h3M358 1365h6M367 1365h4M375 1365h1M380 1365h9M396 1365h2M401 1365h3M407 1365h1M413 1365h2M351 1366h3M358 1366h3M363 1366h2M368 1366h5M381 1366h6M388 1366h1M390 1366h3M397 1366h1M402 1366h3M413 1366h2M349 1367h4M355 1367h5M362 1367h4M371 1367h4M381 1367h1M384 1367h2M387 1367h2M391 1367h3M404 1367h2M413 1367h1M350 1368h4M355 1368h3M363 1368h3M371 1368h4M378 1368h1M381 1368h2M387 1368h2M391 1368h3M396 1368h2M404 1368h1M413 1368h2M349 1369h5M356 1369h1M366 1369h1M371 1369h3M376 1369h2M382 1369h1M387 1369h3M391 1369h2M395 1369h4M404 1369h2M413 1369h2M349 1370h2M365 1370h4M371 1370h7M382 1370h2M387 1370h3M391 1370h2M395 1370h5M404 1370h5M349 1371h2M358 1371h6M365 1371h4M371 1371h10M387 1371h4M392 1371h1M394 1371h4M399 1371h1M404 1371h2M407 1371h3M349 1372h1M358 1372h11M370 1372h6M379 1372h2M387 1372h4M392 1372h5M404 1372h2M408 1372h1M358 1373h4M365 1373h4M370 1373h4M379 1373h3M388 1373h2M391 1373h6M353 1374h3M358 1374h4M366 1374h7M379 1374h5M391 1374h8M350 1375h1M354 1375h2M359 1375h5M368 1375h1M370 1375h3M377 1375h7M388 1375h13M412 1375h3M360 1376h4M369 1376h5M378 1376h7M387 1376h11M411 1376h4M360 1377h4M365 1377h1M369 1377h8M378 1377h7M388 1377h2M393 1377h5M399 1377h4M410 1377h3M349 1378h3M357 1378h10M369 1378h7M378 1378h6M388 1378h3M398 1378h5M405 1378h1M409 1378h5M349 1379h5M355 1379h21M378 1379h4M388 1379h3M394 1379h3M398 1379h6M409 1379h6M349 1380h5M356 1380h13M371 1380h5M380 1380h3M389 1380h2M394 1380h3M399 1380h5M409 1380h6M352 1381h2M356 1381h13M371 1381h5M381 1381h2M389 1381h2M394 1381h11M409 1381h4M414 1381h1M355 1382h5M364 1382h3M369 1382h6M381 1382h2M390 1382h11M402 1382h2M407 1382h5M354 1383h8M364 1383h2M369 1383h4M382 1383h2M390 1383h11M402 1383h3M409 1383h3M349 1384h1M354 1384h4M359 1384h8M368 1384h4M377 1384h4M383 1384h1M388 1384h14M403 1384h3M410 1384h1M414 1384h1M349 1385h2M354 1385h5M360 1385h11M376 1385h6M384 1385h1M387 1385h15M404 1385h2M410 1385h2M414 1385h1M349 1386h2M355 1386h8M366 1386h3M379 1386h7M387 1386h4M392 1386h1M397 1386h5M404 1386h1M410 1386h2M349 1387h1M354 1387h9M367 1387h1M371 1387h5M379 1387h6M389 1387h1M397 1387h2M410 1387h2M353 1388h4M360 1388h2M367 1388h8M380 1388h6M388 1388h2M392 1388h2M397 1388h1M410 1388h5M349 1389h2M353 1389h2M360 1389h2M367 1389h6M377 1389h1M380 1389h6M388 1389h8M411 1389h1M413 1389h2M349 1390h13M365 1390h5M376 1390h7M384 1390h2M387 1390h10M407 1390h2M411 1390h2M349 1391h2M353 1391h11M365 1391h5M376 1391h6M384 1391h1M387 1391h9M406 1391h3M411 1391h2M349 1392h1M353 1392h14M376 1392h9M387 1392h4M393 1392h2M400 1392h6M407 1392h4M349 1393h1M354 1393h8M363 1393h5M369 1393h3M376 1393h5M382 1393h3M386 1393h4M393 1393h2M400 1393h4M405 1393h1M407 1393h2M349 1394h1M354 1394h6M363 1394h9M375 1394h3M385 1394h5M391 1394h4M396 1394h2M402 1394h1M405 1394h2M411 1394h1M349 1395h1M354 1395h2M364 1395h8M375 1395h2M386 1395h7M396 1395h2M402 1395h1M405 1395h2M410 1395h2M349 1396h7M361 1396h2M364 1396h8M375 1396h3M379 1396h1M384 1396h9M396 1396h4M402 1396h1M405 1396h3M410 1396h2M349 1397h8M361 1397h2M366 1397h7M375 1397h5M384 1397h9M396 1397h5M405 1397h7M349 1398h8M362 1398h2M366 1398h7M375 1398h2M378 1398h3M395 1398h5M406 1398h5M413 1398h1M349 1399h8M363 1399h1M368 1399h3M373 1399h4M379 1399h3M392 1399h3M396 1399h2M412 1399h3M351 1400h2M354 1400h5M363 1400h4M369 1400h1M372 1400h5M379 1400h3M384 1400h2M387 1400h2M390 1400h7M412 1400h2M355 1401h3M365 1401h1M369 1401h8M384 1401h3M390 1401h2M393 1401h5M411 1401h4M351 1402h1M354 1402h3M370 1402h2M374 1402h2M384 1402h3M389 1402h2M395 1402h3M400 1402h3M411 1402h4M350 1403h2M353 1403h4M360 1403h1M370 1403h2M374 1403h2M385 1403h2M390 1403h2M396 1403h3M400 1403h5M349 1404h2M353 1404h2M358 1404h1M371 1404h5M385 1404h3M389 1404h4M397 1404h9M349 1405h1M353 1405h6M368 1405h2M371 1405h1M374 1405h2M378 1405h3M387 1405h6M395 1405h5M401 1405h4M352 1406h8M368 1406h4M374 1406h2M378 1406h3M383 1406h1M389 1406h2M395 1406h5M402 1406h3M351 1407h10M364 1407h6M376 1407h5M392 1407h1M395 1407h8M404 1407h1M407 1407h2M414 1407h1M494 1341h2M498 1341h4M513 1341h1M522 1341h3M531 1341h3M547 1341h6M554 1341h3M493 1342h3M498 1342h3M505 1342h2M513 1342h2M522 1342h3M540 1342h1M548 1342h9M493 1343h1M498 1343h4M505 1343h2M514 1343h1M522 1343h5M530 1343h1M537 1343h2M540 1343h2M549 1343h8M499 1344h3M514 1344h2M524 1344h3M528 1344h5M537 1344h6M549 1344h1M552 1344h5M495 1345h4M515 1345h2M524 1345h9M537 1345h5M544 1345h6M552 1345h5M496 1346h3M509 1346h3M514 1346h3M521 1346h1M527 1346h10M538 1346h1M541 1346h1M544 1346h13M498 1347h2M505 1347h2M509 1347h9M520 1347h2M528 1347h3M535 1347h8M545 1347h12M499 1348h1M505 1348h2M509 1348h3M514 1348h3M520 1348h2M538 1348h19M498 1349h2M505 1349h1M530 1349h1M536 1349h4M546 1349h3M552 1349h5M530 1350h4M538 1350h2M547 1350h2M551 1350h6M490 1351h1M495 1351h3M503 1351h1M529 1351h4M539 1351h2M547 1351h10M490 1352h2M495 1352h3M502 1352h1M532 1352h1M538 1352h4M547 1352h10M490 1353h3M508 1353h2M521 1353h2M530 1353h4M537 1353h6M548 1353h3M553 1353h2M556 1353h1M494 1354h1M500 1354h1M509 1354h2M530 1354h4M536 1354h7M545 1354h2M549 1354h3M553 1354h2M556 1354h1M494 1355h2M509 1355h2M516 1355h1M531 1355h5M538 1355h1M541 1355h3M552 1355h5M509 1356h1M512 1356h1M528 1356h2M531 1356h5M538 1356h1M542 1356h2M548 1356h2M552 1356h5M512 1357h1M523 1357h1M529 1357h4M534 1357h4M545 1357h5M551 1357h6M518 1358h1M522 1358h2M529 1358h7M539 1358h4M545 1358h12M493 1359h2M507 1359h1M511 1359h2M521 1359h3M528 1359h2M532 1359h2M535 1359h1M538 1359h5M545 1359h12M493 1360h2M503 1360h2M511 1360h2M521 1360h4M527 1360h3M537 1360h6M546 1360h6M553 1360h4M493 1361h1M503 1361h3M521 1361h11M536 1361h21M492 1362h2M504 1362h2M511 1362h2M515 1362h1M521 1362h11M537 1362h20M493 1363h1M504 1363h3M511 1363h10M522 1363h1M525 1363h7M538 1363h7M547 1363h4M493 1364h1M505 1364h4M511 1364h10M527 1364h5M540 1364h5M548 1364h2M552 1364h1M556 1364h1M494 1365h3M499 1365h1M505 1365h2M508 1365h6M515 1365h1M517 1365h6M525 1365h7M536 1365h9M547 1365h3M551 1365h3M555 1365h2M495 1366h1M506 1366h1M509 1366h3M515 1366h13M530 1366h4M536 1366h4M541 1366h3M547 1366h3M555 1366h2M506 1367h1M509 1367h2M514 1367h14M531 1367h4M537 1367h3M542 1367h3M505 1368h2M509 1368h3M515 1368h4M520 1368h5M526 1368h1M531 1368h5M537 1368h3M543 1368h1M546 1368h1M549 1368h2M552 1368h5M503 1369h1M506 1369h1M510 1369h2M515 1369h3M521 1369h4M526 1369h1M530 1369h6M537 1369h2M543 1369h1M546 1369h1M549 1369h2M555 1369h2M511 1370h2M515 1370h3M522 1370h2M525 1370h2M530 1370h5M547 1370h3M556 1370h1M492 1371h2M500 1371h2M511 1371h3M515 1371h3M521 1371h9M532 1371h3M545 1371h7M492 1372h1M500 1372h2M511 1372h3M515 1372h3M520 1372h2M523 1372h5M529 1372h2M533 1372h2M540 1372h3M544 1372h9M501 1373h1M509 1373h8M520 1373h1M523 1373h4M530 1373h2M533 1373h4M538 1373h1M540 1373h14M493 1374h3M501 1374h1M509 1374h9M520 1374h1M523 1374h2M530 1374h24M556 1374h1M510 1375h2M513 1375h5M523 1375h6M531 1375h2M534 1375h17M553 1375h1M556 1375h1M499 1376h2M510 1376h7M523 1376h6M531 1376h20M553 1376h1M556 1376h1M512 1377h4M523 1377h6M530 1377h5M538 1377h7M546 1377h9M491 1378h2M512 1378h3M518 1378h2M523 1378h12M540 1378h15M491 1379h3M498 1379h2M504 1379h2M511 1379h4M519 1379h2M523 1379h6M531 1379h4M540 1379h9M551 1379h3M492 1380h2M498 1380h2M501 1380h6M510 1380h3M518 1380h4M527 1380h2M532 1380h5M542 1380h13M556 1380h1M492 1381h2M495 1381h4M501 1381h8M511 1381h3M518 1381h4M532 1381h7M542 1381h5M549 1381h8M490 1382h1M493 1382h5M504 1382h5M513 1382h2M519 1382h4M533 1382h5M541 1382h2M545 1382h2M550 1382h5M556 1382h1M490 1383h2M494 1383h3M505 1383h4M515 1383h1M523 1383h5M534 1383h4M539 1383h5M545 1383h3M550 1383h3M556 1383h1M490 1384h2M495 1384h2M502 1384h2M506 1384h3M518 1384h1M523 1384h29M490 1385h2M494 1385h1M496 1385h1M498 1385h2M506 1385h4M516 1385h4M524 1385h2M527 1385h7M537 1385h2M541 1385h10M493 1386h2M496 1386h4M516 1386h3M524 1386h2M534 1386h1M537 1386h2M542 1386h1M545 1386h2M548 1386h3M493 1387h1M496 1387h4M502 1387h2M515 1387h4M525 1387h1M533 1387h3M537 1387h1M546 1387h6M556 1387h1M493 1388h1M502 1388h4M515 1388h4M525 1388h2M529 1388h7M540 1388h4M545 1388h8M555 1388h2M494 1389h1M504 1389h2M515 1389h4M525 1389h2M529 1389h6M540 1389h13M554 1389h3M492 1390h3M504 1390h2M518 1390h2M523 1390h2M530 1390h2M539 1390h6M546 1390h4M551 1390h2M555 1390h2M494 1391h2M504 1391h2M517 1391h4M522 1391h2M536 1391h1M539 1391h6M551 1391h2M555 1391h2M504 1392h3M508 1392h1M517 1392h7M535 1392h2M539 1392h3M543 1392h2M551 1392h2M555 1392h2M506 1393h3M518 1393h1M525 1393h3M534 1393h3M540 1393h1M544 1393h2M549 1393h3M556 1393h1M490 1394h1M505 1394h4M512 1394h1M525 1394h4M531 1394h2M545 1394h7M490 1395h1M503 1395h5M509 1395h5M526 1395h2M531 1395h2M545 1395h3M550 1395h3M555 1395h1M498 1396h1M503 1396h1M506 1396h2M509 1396h4M528 1396h1M531 1396h2M535 1396h1M540 1396h2M544 1396h4M550 1396h7M504 1397h3M509 1397h2M527 1397h3M538 1397h8M547 1397h10M504 1398h1M508 1398h2M519 1398h3M527 1398h3M538 1398h5M548 1398h3M552 1398h5M493 1399h2M519 1399h5M526 1399h3M535 1399h2M541 1399h16M494 1400h1M498 1400h1M501 1400h2M512 1400h1M519 1400h1M521 1400h3M526 1400h5M535 1400h2M542 1400h15M494 1401h1M497 1401h5M511 1401h3M515 1401h1M522 1401h1M529 1401h2M535 1401h1M543 1401h1M547 1401h10M490 1402h4M496 1402h6M512 1402h1M515 1402h4M532 1402h2M539 1402h2M547 1402h10M490 1403h4M497 1403h4M515 1403h2M518 1403h2M536 1403h1M539 1403h3M547 1403h6M554 1403h3M499 1404h2M507 1404h2M511 1404h2M515 1404h1M518 1404h3M525 1404h1M535 1404h3M540 1404h2M547 1404h3M551 1404h6M507 1405h3M511 1405h6M520 1405h4M535 1405h3M540 1405h3M544 1405h13M491 1406h2M511 1406h6M520 1406h7M540 1406h3M545 1406h12M511 1407h3M519 1407h8M545 1407h12" stroke="#181818" stroke-width="1" fill="none" transform="translate(0,0.5)" shape-rendering="crispEdges"/>
</svg>
</body></html>
